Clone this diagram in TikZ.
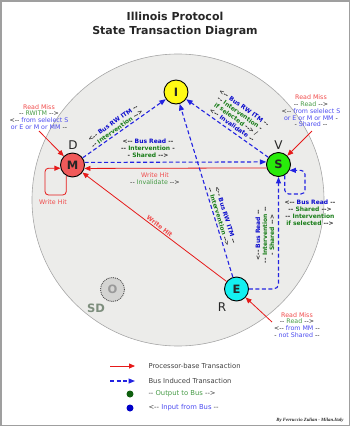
\documentclass[tikz,border=0pt]{standalone}
\usepackage{fontspec}
\setmainfont{DejaVu Sans}[Ligatures=TeXOff]
\newfontfamily\signfont{Liberation Serif}
\usetikzlibrary{arrows.meta}

\definecolor{arrred}{RGB}{230,25,25}
\definecolor{arrblue}{RGB}{35,35,225}
\definecolor{txtred}{RGB}{240,75,75}
\definecolor{txtgreen}{RGB}{70,155,70}
\definecolor{txtblue}{RGB}{75,75,240}
\definecolor{busblue}{RGB}{10,10,205}
\definecolor{busgreen}{RGB}{25,125,25}
\definecolor{diskgray}{RGB}{236,236,234}
\definecolor{mred}{RGB}{240,90,90}
\definecolor{sgreen}{RGB}{40,235,10}
\definecolor{ecyan}{RGB}{20,240,240}
\definecolor{iyellow}{RGB}{255,250,20}
\definecolor{ogray}{RGB}{212,212,210}
\definecolor{sdgray}{RGB}{125,142,125}
\definecolor{dotgreen}{RGB}{15,95,15}
\definecolor{dotblue}{RGB}{0,0,200}

\newcommand{\rtxt}[1]{\textcolor{txtred}{#1}}
\newcommand{\gtxt}[1]{\textcolor{txtgreen}{#1}}
\newcommand{\btxt}[1]{\textcolor{txtblue}{#1}}
\newcommand{\gbus}[1]{\textcolor{busgreen}{#1}}
\newcommand{\bbus}[1]{\textcolor{busblue}{#1}}

\begin{document}
\begin{tikzpicture}[x=1pt, y=-1pt,
    state/.style={circle, draw, line width=0.9pt, minimum size=24pt, inner sep=0pt,
        font=\fontsize{11.5}{13}\selectfont\bfseries},
    proc/.style={draw=arrred, line width=0.8pt, -{Triangle[length=6pt,width=5pt]}},
    bus/.style={draw=arrblue, line width=1.1pt, dash pattern=on 4pt off 2.5pt,
        -{Triangle[length=6.5pt,width=5pt]}},
    lbl/.style={align=center, inner sep=1pt, font=\fontsize{6.3}{6.8}\selectfont},
    buslbl/.style={align=center, inner sep=1pt, font=\fontsize{6}{7}\selectfont\bfseries},
    letter/.style={font=\fontsize{12}{13}\selectfont},
    legend/.style={anchor=west, text=black!75, font=\fontsize{6.8}{8}\selectfont},
    dot/.style={circle, inner sep=0pt, minimum size=7pt},
    every node/.style={text=black!85}
]
\useasboundingbox (0,0) rectangle (350,426);
\draw[gray!75, line width=1.5pt] (0.75,0.75) rectangle (349.25,425.25);

% Title
\node[font=\fontsize{11}{14}\selectfont\bfseries, align=center] (title) at (175,24.5)
    {Illinois Protocol\\State Transaction Diagram};

% Disk
\filldraw[fill=diskgray, draw=gray!70, line width=0.6pt] (178,200) circle[radius=146pt];

% States
\node[state, fill=iyellow] (I) at (176,92) {I};
\node[state, fill=mred] (M) at (72.5,165) {M};
\node[state, fill=sgreen] (S) at (278.5,164.5) {S};
\node[state, fill=ecyan] (E) at (236.5,289) {E};
\node[state, fill=ogray, draw=black!70, densely dotted, text=black!40] (O) at (112.5,289.5) {O};

\node[letter] (D) at (73,145.5) {D};
\node[letter] (V) at (278.5,145.5) {V};
\node[letter] (R) at (222,307.5) {R};
\node[letter, text=sdgray, font=\fontsize{11.5}{13}\selectfont\bfseries] (SD) at (96,308) {SD};

% Processor transactions
\coordinate (rmM) at (39,131);
\coordinate (rmS) at (312,131);
\coordinate (rmE) at (272,322);
\draw[proc] (rmM) -- (M);
\draw[proc] (rmS) -- (S);
\draw[proc] (rmE) -- (E);
\draw[proc, rounded corners=3.5pt] (M.240) |- (45,195) |- (M.195);
\draw[proc] (S.196) -- (M.344);
\draw[proc] (E) -- (M);

% Bus transactions
\draw[bus] (M.12) -- (S.168);
\draw[bus] (M) -- (I);
\draw[bus] (S) -- (I);
\draw[bus] (E) -- (I);
\draw[bus, rounded corners=5pt] (E) -| (S);
\draw[bus, rounded corners=4pt] (S.-60) |- (305,194) |- (S.-28);

% Labels on the arrows
\node[lbl] (rmMlbl) at (39,117)
    {\rtxt{Read Miss}\\-- \gtxt{RWITM} -->\\<-- \btxt{from selelect S}\\\btxt{or E or M or MM} --};
\node[lbl] (rmSlbl) at (311,111)
    {\rtxt{Read Miss}\\-- \gtxt{Read} -->\\<-- \btxt{from selelect S}\\\btxt{or E or M or MM} -\\- \btxt{Shared} --};
\node[lbl] (rmElbl) at (297,325)
    {\rtxt{Read Miss}\\-- \gtxt{Read} -->\\<-- \btxt{from MM} --\\- \btxt{not Shared} --};
\node[lbl] (whM) at (53,202.5) {\rtxt{Write Hit}};
\node[lbl] (lbSM) at (155,178.5) {\rtxt{Write Hit}\\-- \gtxt{Invalidate} -->};
\path (M) -- node[sloped, above=0.3pt, buslbl, pos=0.52] (lbEM) {\rtxt{Write Hit}} (E);
\node[buslbl] (lbMS) at (148,148)
    {<-- \bbus{Bus Read} --\\-- \gbus{Intervention} -\\- \gbus{Shared} -->};
\path (M) -- node[sloped, above=0.5pt, buslbl, pos=0.44] (lbMI)
    {<-- \bbus{Bus RW ITM} --\\-- \gbus{Intervention} -->} (I);
\path (I) -- node[sloped, above=2pt, buslbl, pos=0.52] (lbSI)
    {<-- \bbus{Bus RW ITM} --\\-- \gbus{Intervention} -\\\gbus{if selected} --> /\\<-- \bbus{Invalidate} --} (S);
\path (I) -- node[sloped, above=1pt, buslbl, pos=0.66] (lbEI)
    {<-- \bbus{Bus RW ITM} --\\-- \gbus{Intervention} -->} (E);
\node[buslbl, rotate=90] (lbES) at (265,235)
    {<-- \bbus{Bus Read} --\\-- \gbus{Intervention} --\\- \gbus{Shared} -->};
\node[buslbl] (lbSS) at (310,213)
    {<-- \bbus{Bus Read} --\\-- \gbus{Shared} -->\\-- \gbus{Intervention}\\\gbus{if selected} -->};

% Legend
\coordinate (lgA1) at (110,366);
\coordinate (lgA2) at (135,366);
\coordinate (lgB1) at (110,381);
\coordinate (lgB2) at (135,381);
\draw[proc] (lgA1) -- (lgA2);
\draw[bus] (lgB1) -- (lgB2);
\node[dot, fill=dotgreen] (lgC) at (130,394) {};
\node[dot, fill=dotblue] (lgD) at (130,408) {};
\node[legend] (lgAt) at (145,366) {Processor-base Transaction};
\node[legend] (lgBt) at (145,381) {Bus Induced Transaction};
\node[legend] (lgCt) at (145,394) {-- \gtxt{Output to Bus} -->};
\node[legend] (lgDt) at (145,408) {<-- \btxt{Input from Bus} --};

\node[anchor=east, font=\signfont\fontsize{4.8}{5}\selectfont\bfseries\itshape] (sign) at (347,420.5)
    {By Ferruccio Zulian - Milan.Italy};
\end{tikzpicture}
\end{document}
